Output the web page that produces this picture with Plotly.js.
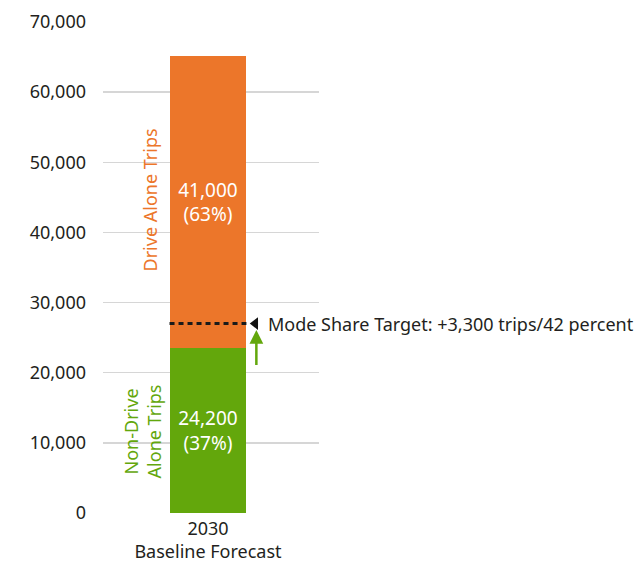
<!DOCTYPE html>
<html>
<head>
<meta charset="utf-8">
<script src="https://cdn.plot.ly/plotly-3.0.1.min.js"></script>
<style>html,body{margin:0;padding:0;background:#fff;}</style>
</head>
<body>
<div id="chart" style="width:644px;height:562px;"></div>
<script>
const categories = ["2030<br>Baseline Forecast"];
const nonDriveValues = [23550];
const driveAloneValues = [41600];
const nonDriveLabels = ["24,200<br>(37%)"];
const driveAloneLabels = ["41,000<br>(63%)"];
const targetValue = 27000;
const arrowFrom = 20900;
const arrowTo = 26100;
const targetText = "Mode Share Target: +3,300 trips/42 percent";
const yTicks = [0, 10000, 20000, 30000, 40000, 50000, 60000, 70000];

const ORANGE = "#EC762A";
const GREEN = "#63A70C";
const FONT = "Noto Sans, Open Sans, sans-serif";
const xPos = categories.map((c, i) => i);

const traces = [
  {
    type: "bar", x: xPos, y: nonDriveValues, marker: {color: GREEN},
    width: 0.356, text: nonDriveLabels, textposition: "inside", insidetextanchor: "middle",
    textfont: {color: "#ffffff", size: 19, family: FONT}, hoverinfo: "none"
  },
  {
    type: "bar", x: xPos, y: driveAloneValues, marker: {color: ORANGE},
    width: 0.356, text: driveAloneLabels, textposition: "inside", insidetextanchor: "middle",
    textfont: {color: "#ffffff", size: 19, family: FONT}, hoverinfo: "none"
  },
  {
    type: "scatter", mode: "markers", x: [xPos[0] + 0.219], y: [targetValue],
    marker: {symbol: "triangle-left", size: 11, color: "#111111"}, hoverinfo: "none"
  }
];

const layout = {
  width: 644, height: 562,
  margin: {l: 103, r: 325, t: 22, b: 49},
  barmode: "stack",
  showlegend: false,
  paper_bgcolor: "#ffffff", plot_bgcolor: "#ffffff",
  font: {family: FONT, color: "#231f20", size: 18},
  xaxis: {
    type: "linear", range: [-0.486, 0.514], tickvals: xPos, ticktext: categories,
    showgrid: false, zeroline: false, showline: false, ticks: "",
    tickfont: {size: 18, color: "#231f20"}, ticklabelstandoff: 3
  },
  yaxis: {
    range: [0, 70000], tickvals: yTicks, tickformat: ",", showgrid: true,
    gridcolor: "#d6d6d6", gridwidth: 1.5, zeroline: false, showline: false, ticks: "",
    tickfont: {size: 18, color: "#231f20"}, ticklabelstandoff: 16
  },
  shapes: [
    {type: "line", xref: "x", yref: "y", x0: -0.178, x1: 0.178, y0: targetValue, y1: targetValue,
     line: {color: "#1a1a1a", width: 3, dash: "5px,4px"}}
  ],
  annotations: [
    {xref: "x", yref: "y", x: 0.27, y: targetValue, text: targetText, showarrow: false,
     xanchor: "left", yanchor: "middle", font: {size: 18, color: "#231f20"}},
    {xref: "x", yref: "y", x: 0.224, y: arrowTo, axref: "x", ayref: "y", ax: 0.224, ay: arrowFrom,
     text: "", showarrow: true, arrowhead: 2, arrowsize: 1.1, arrowwidth: 2.5, arrowcolor: GREEN},
    {xref: "x", yref: "y", x: -0.267, y: 44600, text: "Drive Alone Trips", textangle: -90,
     showarrow: false, font: {size: 18, color: ORANGE}},
    {xref: "x", yref: "y", x: -0.305, y: 11650, text: "Non-Drive<br>Alone Trips", textangle: -90,
     showarrow: false, font: {size: 18, color: GREEN}}
  ]
};

Plotly.newPlot("chart", traces, layout, {staticPlot: true, displayModeBar: false});
</script>
</body>
</html>
